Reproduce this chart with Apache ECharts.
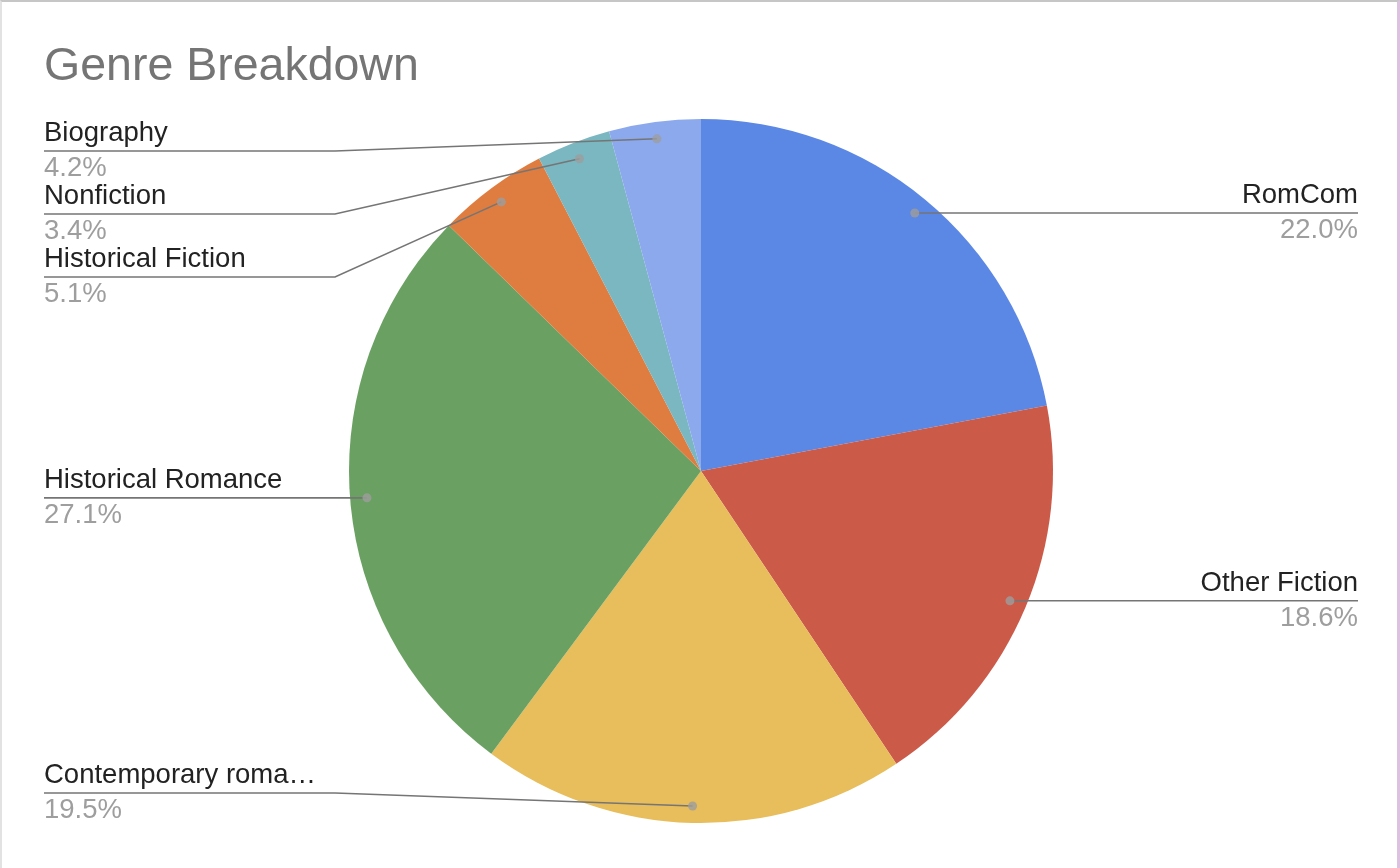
<!DOCTYPE html>
<html>
<head>
<meta charset="utf-8">
<script src="https://cdn.jsdelivr.net/npm/echarts@6/dist/echarts.min.js"></script>
<style>
html,body{margin:0;padding:0;background:#fff;}
#chart{position:absolute;left:0;top:0;width:1400px;height:868px;}
#frame{position:absolute;left:0;top:0;width:1400px;height:868px;box-sizing:border-box;pointer-events:none;
  border-top:2px solid #c6c6c6;border-left:2px solid #e2e2e2;border-right:3px solid #dcc1e0;}
</style>
</head>
<body>
<div id="chart"></div>
<div id="frame"></div>
<script>
// ---- data ----
const categories = ['RomCom', 'Other Fiction', 'Contemporary roma…', 'Historical Romance', 'Historical Fiction', 'Nonfiction', 'Biography'];
const shares = [22.0, 18.6, 19.5, 27.1, 5.1, 3.4, 4.2];
const colors = ['#5b87e5', '#cb5a49', '#e8bd5b', '#6aa162', '#df7c3f', '#7ab7c1', '#8ba9ec'];
const titleText = 'Genre Breakdown';

// ---- layout constants ----
const FONT = 'Arial, "Liberation Sans", Helvetica, sans-serif';
const CENTER = [701, 471];
const RADIUS = 352;
const DOT_FRAC = 0.952;
const LEFT_X = 44, RIGHT_X = 1358, BEND_L = 335, BEND_R = 1065;
const MIN_Y = 151, MAX_Y = 793, GAP = 63;

const total = shares.reduce((a, b) => a + b, 0);
const mids = [];
let acc = 0;
shares.forEach(v => { mids.push(acc + v / 2); acc += v; });

// anchor points (same geometry as the pie) for the leader lines
const anchors = mids.map(m => {
  const a = m / total * 2 * Math.PI;
  const r = RADIUS * DOT_FRAC;
  return [CENTER[0] + r * Math.sin(a), CENTER[1] - r * Math.cos(a)];
});

// vertical placement of labels on each side
const lineY = new Array(shares.length);
['L', 'R'].forEach(side => {
  const idx = anchors.map((d, i) => i).filter(i => (side === 'R') === (anchors[i][0] >= CENTER[0]));
  idx.sort((a, b) => anchors[a][1] - anchors[b][1]);
  let prev = -Infinity;
  idx.forEach(i => { const y = Math.max(anchors[i][1], MIN_Y, prev + GAP); lineY[i] = y; prev = y; });
  let next = Infinity;
  for (let k = idx.length - 1; k >= 0; k--) {
    const i = idx[k];
    const y = Math.min(lineY[i], MAX_Y, next - GAP);
    lineY[i] = y; next = y;
  }
});

const pieData = (transparent) => categories.map((c, i) => ({
  name: c, value: shares[i],
  itemStyle: { color: transparent ? 'rgba(0,0,0,0)' : colors[i] }
}));

const chart = echarts.init(document.getElementById('chart'), null, { renderer: 'canvas' });

chart.setOption({
  animation: false,
  backgroundColor: '#ffffff',
  title: {
    text: titleText, left: 44, top: 44, padding: 0,
    textStyle: { fontSize: 46.5, fontWeight: 'normal', color: '#757575', fontFamily: FONT }
  },
  polar: { center: CENTER, radius: RADIUS },
  angleAxis: { type: 'value', min: 0, max: total, startAngle: 90, clockwise: true, show: false },
  radiusAxis: { type: 'value', min: 0, max: 1, show: false },
  series: [
    {
      // coloured slices
      type: 'pie',
      center: CENTER,
      radius: RADIUS,
      startAngle: 90,
      clockwise: true,
      z: 2,
      silent: true,
      emphasis: { disabled: true },
      data: pieData(false),
      label: { show: false },
      labelLine: { show: false }
    },
    {
      // transparent overlay that carries the labels and leader lines above the slices
      type: 'pie',
      center: CENTER,
      radius: RADIUS,
      startAngle: 90,
      clockwise: true,
      z: 4,
      silent: true,
      avoidLabelOverlap: false,
      emphasis: { disabled: true },
      data: pieData(true),
      label: {
        show: true,
        position: 'outside',
        overflow: 'none',
        formatter: p => '{n|' + p.name + '}\n{p|' + p.value.toFixed(1) + '%}',
        rich: {
          n: { fontSize: 27.5, lineHeight: 35.5, color: '#222222', fontFamily: FONT },
          p: { fontSize: 27.5, lineHeight: 35.5, color: '#9e9e9e', fontFamily: FONT }
        }
      },
      labelLine: { show: true, showAbove: true, length: 10, length2: 10, smooth: false, lineStyle: { color: '#757575', width: 1.6 } },
      labelLayout: function (p) {
        const i = p.dataIndex;
        const d = anchors[i];
        const right = d[0] >= CENTER[0];
        const y = lineY[i];
        const ex = right ? RIGHT_X : LEFT_X;
        const bx = right ? Math.max(d[0], BEND_R) : Math.min(d[0], BEND_L);
        return {
          x: ex, y: y,
          align: right ? 'right' : 'left',
          verticalAlign: 'middle',
          labelLinePoints: [[d[0], d[1]], [bx, y], [ex, y]]
        };
      }
    },
    {
      type: 'scatter',
      coordinateSystem: 'polar',
      silent: true,
      z: 6,
      symbolSize: 9,
      itemStyle: { color: '#9e9e9e' },
      data: mids.map(m => [DOT_FRAC, m])
    }
  ]
});
</script>
</body>
</html>
